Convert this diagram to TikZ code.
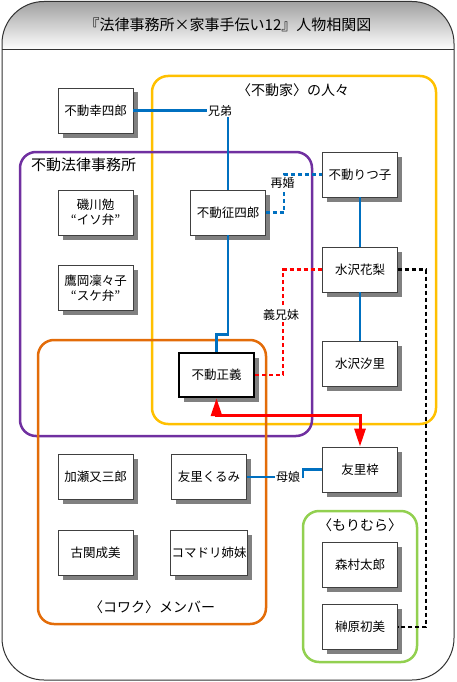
\documentclass[tikz,border=0pt]{standalone}
\usepackage{fontspec}
\setmainfont{Noto Sans CJK JP}
\usetikzlibrary{shadows,arrows.meta,calc}
\definecolor{cblue}{HTML}{0070C0}
\definecolor{cyellow}{HTML}{FFC000}
\definecolor{cpurple}{HTML}{7030A0}
\definecolor{corange}{HTML}{E36C09}
\definecolor{cgreen}{HTML}{92D050}
\definecolor{cred}{HTML}{FF0000}
\tikzset{
  pbox/.style={draw=black!75, line width=0.8pt, fill=white, minimum width=75pt, minimum height=45pt,
    inner sep=1pt, align=center, font=\fontsize{12.5}{15}\selectfont,
    drop shadow={shadow xshift=4.5pt, shadow yshift=-4.5pt, fill=black!50, opacity=1}},
  mainbox/.style={pbox, draw=black, line width=2.4pt, minimum width=75pt, minimum height=44pt},
  grp/.style={line width=2.5pt, rounded corners=16pt},
  grplabel/.style={inner sep=1pt, font=\fontsize{14}{16}\selectfont},
  lbl/.style={fill=white, inner sep=1pt, font=\fontsize{12}{14}\selectfont},
  blueline/.style={draw=cblue, line width=2.2pt},
  bluedash/.style={draw=cblue, line width=2.2pt, dash pattern=on 4pt off 3pt},
  reddash/.style={draw=cred, line width=2.2pt, dash pattern=on 4pt off 3pt},
  blackdash/.style={draw=black, line width=2.2pt, dash pattern=on 4pt off 3pt},
  redarrow/.style={draw=cred, line width=3pt, {Triangle[length=18pt,width=11pt]}-{Triangle[length=18pt,width=11pt]}}
}
\begin{document}
\begin{tikzpicture}[x=1pt,y=-1pt]
\useasboundingbox (0,0) rectangle (456,682);
% outer frame with header
\begin{scope}
  \clip[rounded corners=42pt] (2,1.5) rectangle (454,680);
  \shade[top color=black!38, bottom color=white] (0,0) rectangle (456,50);
\end{scope}
\draw[black!80, line width=1pt, rounded corners=42pt] (2,1.5) rectangle (454,680);
\draw[black!80, line width=1pt] (2,50) -- (454,50);
\node[font=\fontsize{15}{17}\selectfont] (title) at (228,25) {『法律事務所×家事手伝い12』人物相関図};

% groups
\draw[grp, draw=cyellow] (152,76) rectangle (436,424);
\draw[grp, draw=cpurple] (20,152) rectangle (312,436);
\draw[grp, draw=corange] (38,340) rectangle (266,624);
\draw[grp, draw=cgreen] (303,511) rectangle (417,662);
\node[grplabel] (gfudo) at (293,90) {〈不動家〉の人々};
\node[grplabel, anchor=west, font=\fontsize{15}{17}\selectfont] (glaw) at (30,165) {不動法律事務所};
\node[grplabel] (gkowaku) at (152,607) {〈コワク〉メンバー};
\node[grplabel] (gmori) at (360,525) {〈もりむら〉};

% people
\node[pbox] (koshiro) at (95.5,110.5) {不動幸四郎};
\node[pbox] (seishiro) at (228,212.5) {不動征四郎};
\node[pbox] (ritsuko) at (360,174.5) {不動りつ子};
\node[pbox] (isokawa) at (95.5,212.5) {磯川勉\\“イソ弁”};
\node[pbox] (takaoka) at (95.5,288) {鷹岡凜々子\\“スケ弁”};
\node[pbox] (karin) at (360,269.5) {水沢花梨};
\node[pbox] (shiori) at (360,363.5) {水沢汐里};
\node[mainbox] (masayoshi) at (216.5,375) {不動正義};
\node[pbox] (azusa) at (360,469.5) {友里梓};
\node[pbox] (kase) at (95.5,477) {加瀬又三郎};
\node[pbox] (kurumi) at (209,477) {友里くるみ};
\node[pbox] (koseki) at (95.5,552.5) {古関成美};
\node[pbox] (komadori) at (209,552.5) {コマドリ姉妹};
\node[pbox] (morimura) at (360,564.5) {森村太郎};
\node[pbox] (sakakibara) at (360,627) {榊原初美};

% relations
\node[lbl] (kyodai) at (220,110.5) {兄弟};
\draw[blueline] (koshiro.east) -- (kyodai.west);
\draw[blueline] (kyodai.south -| seishiro.north) -- (seishiro.north);

\draw[bluedash] (seishiro.east) -- ++(18,0) |- (ritsuko.west);
\node[lbl] (saikon) at (282.5,183) {再婚};

\draw[blueline] (ritsuko.south) -- (karin.north);
\draw[blueline] (karin.south) -- (shiori.north);
\draw[blueline] (seishiro.south) -- ++(0,99) -| (masayoshi.north);

\draw[reddash] (masayoshi.east) -- ++(28,0) |- (karin.west);
\node[lbl] (gikyomai) at (281,315) {義兄妹};

\draw[redarrow] (masayoshi.south) -- ++(0,17.5) -| (azusa.north);

\node[lbl] (boshi) at (288,477) {母娘};
\draw[blueline] (kurumi.east) -- (boshi.west);
\draw[blueline] (boshi.east) ++(2,1) |- (azusa.west);

\draw[blackdash] (karin.east) -- ++(28,0) |- (sakakibara.east);
\end{tikzpicture}
\end{document}
